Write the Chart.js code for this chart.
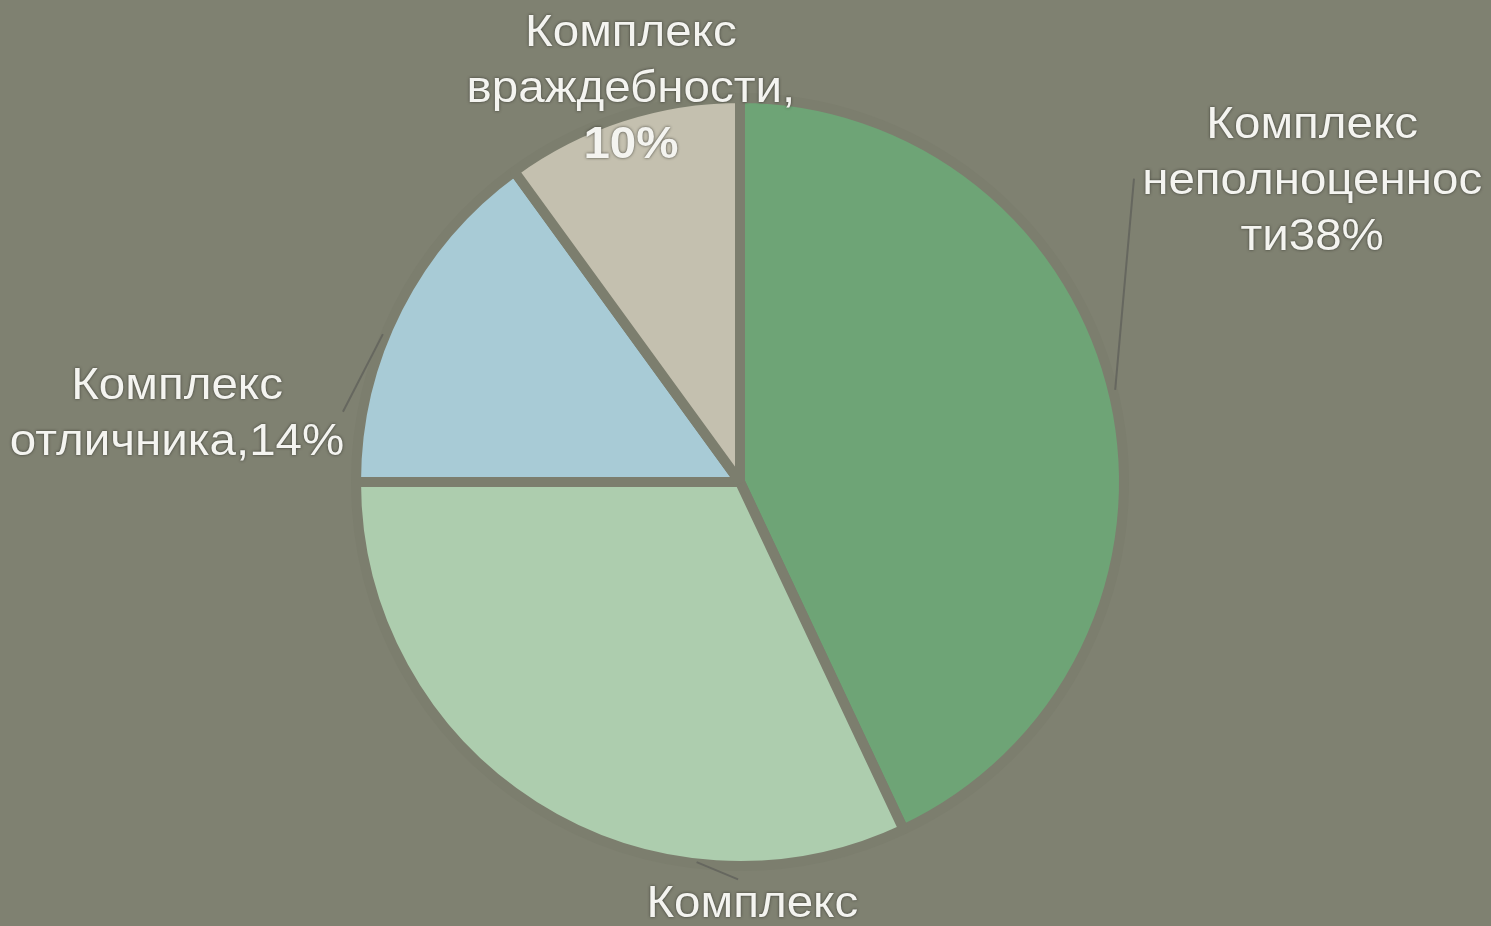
<!DOCTYPE html>
<html>
<head>
<meta charset="utf-8">
<script src="https://cdn.jsdelivr.net/npm/chart.js@4.4.1/dist/chart.umd.min.js"></script>
<style>
  html, body { margin: 0; padding: 0; background: #7f8171; }
  #wrap { width: 1491px; height: 926px; position: relative; }
</style>
</head>
<body>
<div id="wrap"><canvas id="c" width="1491" height="926"></canvas></div>
<script>
// ---- data ----
const categories = ['Комплекс неполноценности', 'Комплекс (нижний)', 'Комплекс отличника', 'Комплекс враждебности'];
const values = [43, 32, 15, 10];
const labelLines = [
  ['Комплекс', 'неполноценнос', 'ти38%'],
  ['Комплекс'],
  ['Комплекс', 'отличника,14%'],
  ['Комплекс', 'враждебности,', '10%']
];
const sliceColors = ['#6ea476', '#adcdae', '#a8cbd6', '#c4c0af'];

// ---- layout (relative to pie center, in units of radius) ----
const labelPos = [
  { x: 1.49, y: -0.928 },
  { x: 0.032, y: 1.102 },
  { x: -1.466, y: -0.249 },
  { x: -0.284, y: -1.167 }
];
const leaders = [
  [[0.977, -0.24], [1.026, -0.79]],
  [[-0.113, 0.99], [-0.005, 1.035]],
  [[-1.034, -0.183], [-0.93, -0.385]],
  null
];
const boldLast = [false, false, false, true];

const labelPlugin = {
  id: 'labels',
  afterDatasetsDraw(chart) {
    const ctx = chart.ctx;
    const arc = chart.getDatasetMeta(0).data[0];
    const cx = arc.x, cy = arc.y, r = arc.outerRadius;
    ctx.save();
    ctx.strokeStyle = '#66675f';
    ctx.lineWidth = 2;
    leaders.forEach(l => {
      if (!l) return;
      ctx.beginPath();
      ctx.moveTo(cx + l[0][0] * r, cy + l[0][1] * r);
      ctx.lineTo(cx + l[1][0] * r, cy + l[1][1] * r);
      ctx.stroke();
    });
    ctx.textAlign = 'center';
    ctx.textBaseline = 'middle';
    const lh = 56;
    labelLines.forEach((lines, i) => {
      const p = labelPos[i];
      lines.forEach((t, j) => {
        const bold = boldLast[i] && j === lines.length - 1;
        ctx.font = (bold ? 'bold ' : '') + '44px "Liberation Sans", Arial, sans-serif';
        ctx.shadowColor = 'rgba(40,40,35,0.8)';
        ctx.shadowBlur = 3;
        ctx.fillStyle = '#f4f4f0';
        const x = cx + p.x * r, y = cy + p.y * r + j * lh;
        ctx.save();
        ctx.translate(x, y);
        ctx.scale(1.08, 1);
        ctx.fillText(t, 0, 0);
        ctx.restore();
      });
    });
    ctx.restore();
  }
};

new Chart(document.getElementById('c'), {
  type: 'pie',
  data: {
    labels: categories,
    datasets: [{
      data: values,
      backgroundColor: sliceColors,
      borderColor: '#7c7e6e',
      borderWidth: 10
    }]
  },
  options: {
    responsive: false,
    animation: false,
    radius: 384,
    layout: { padding: { left: 0, right: 11, top: 38, bottom: 0 } },
    plugins: {
      legend: { display: false },
      tooltip: { enabled: false }
    }
  },
  plugins: [labelPlugin]
});
</script>
</body>
</html>
